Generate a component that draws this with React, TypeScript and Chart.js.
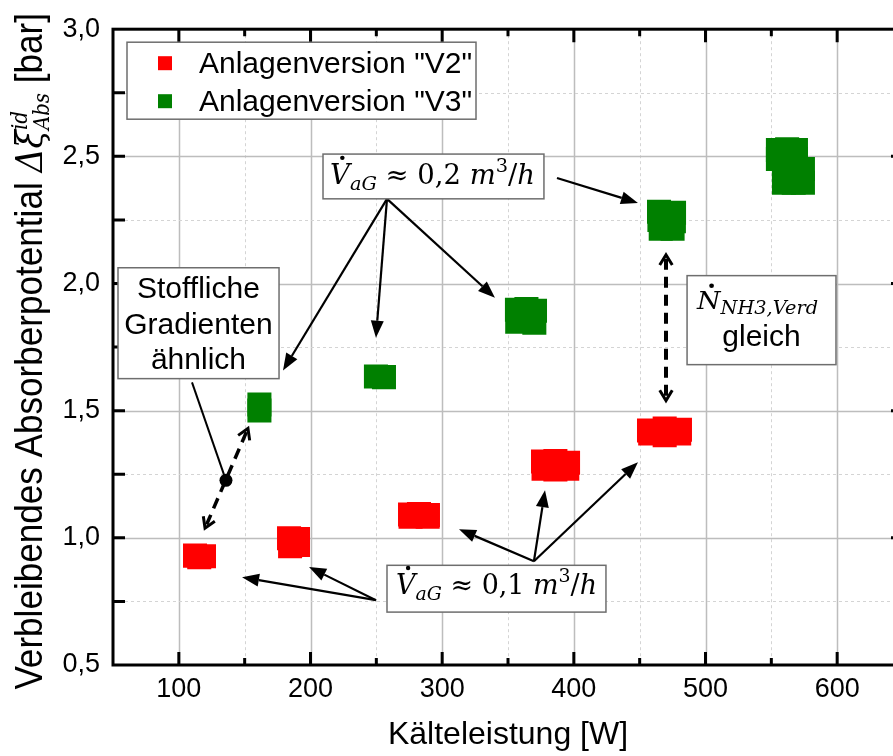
import React, { useEffect, useRef } from 'react';
import { Chart, registerables } from 'chart.js';

Chart.register(...registerables);

// ---------------- data ----------------
const seriesNames = ['Anlagenversion "V2"', 'Anlagenversion "V3"'];

// Anlagenversion "V2" (each cluster = several measurements)
const v2X = [112.3, 119.1, 115.5, 183.7, 190.5, 184.5, 190.5, 275.6, 282.4, 289.2, 276.0, 289.0, 376.6, 386.0, 395.6, 377.0, 386.0, 395.0, 457.1, 469.0, 480.6, 458.0, 469.0, 480.0];
const v2Y = [0.93, 0.928, 0.924, 0.998, 0.995, 0.967, 0.972, 1.092, 1.094, 1.09, 1.083, 1.083, 1.3, 1.302, 1.295, 1.272, 1.269, 1.272, 1.422, 1.43, 1.425, 1.41, 1.403, 1.41];

// Anlagenversion "V3"
const v3X = [161.2, 161.2, 249.7, 255.8, 356.8, 364.0, 370.5, 357.0, 370.0, 364.0, 464.7, 476.1, 465.0, 476.0, 466.0, 475.0, 555.0, 562.0, 568.7, 555.0, 568.7, 559.6, 574.0, 559.6, 567.0, 574.0];
const v3Y = [1.524, 1.501, 1.634, 1.632, 1.897, 1.9, 1.893, 1.85, 1.846, 1.872, 2.282, 2.278, 2.25, 2.245, 2.215, 2.215, 2.525, 2.528, 2.525, 2.49, 2.49, 2.45, 2.45, 2.396, 2.396, 2.396];

const xMajorValues = [100, 200, 300, 400, 500, 600];
const xTickLabels = ['100', '200', '300', '400', '500', '600'];
const yMajorValues = [0.5, 1.0, 1.5, 2.0, 2.5, 3.0];
const yTickLabels = ['0,5', '1,0', '1,5', '2,0', '2,5', '3,0'];

const xTitle = 'Kälteleistung [W]';

// ---------------- annotation anchors (data units) ----------------
const boxV02 = { x0: 209.5, x1: 377.3, y0: 2.509, y1: 2.333, tx: 292.7, ty: 2.392 };
const arrowsV02 = [
  { from: [258.1, 2.333], to: [179.1, 1.658] },
  { from: [258.1, 2.333], to: [249.7, 1.787] },
  { from: [258.1, 2.333], to: [340.1, 1.944] },
  { from: [387.2, 2.415], to: [448.7, 2.317] },
];
const boxV01 = { x0: 258.1, x1: 424.4, y0: 0.892, y1: 0.708, tx: 341.3, ty: 0.779 };
const arrowsV01 = [
  { from: [369.7, 0.908], to: [312.8, 1.034] },
  { from: [369.7, 0.908], to: [378.1, 1.187] },
  { from: [369.7, 0.908], to: [448.7, 1.297] },
  { from: [249.7, 0.755], to: [148.0, 0.845] },
  { from: [249.7, 0.755], to: [198.9, 0.885] },
];
const boxStoff = { x0: 53.8, x1: 176.1, y0: 2.062, y1: 1.626, tx: 114.9, lines: ['Stoffliche', 'Gradienten', 'ähnlich'], ty: [1.944, 1.803, 1.662] };
const stoffPointer = { from: [110.0, 1.611], to: [135.8, 1.226] };
const stoffDashed = { a: [152.5, 1.43], b: [119.9, 1.038] };
const boxN = { x0: 486.0, x1: 599.1, y0: 2.031, y1: 1.681, tx: 539.5, ty1: 1.901, ty2: 1.756 };
const nDashed = { a: [470.0, 2.113], b: [470.0, 1.54] };

// ---------------- drawing helpers ----------------
const SANS = '"Liberation Sans", Arial, sans-serif';
const SERIF = '"DejaVu Serif", "Liberation Serif", serif';

type Seg = { t?: string; font: string; dy?: number; dot?: boolean; sup?: string; sub?: string; supDy?: number; subDy?: number };

function segW(ctx: CanvasRenderingContext2D, s: Seg) {
  ctx.font = s.font;
  if (s.sup !== undefined || s.sub !== undefined) {
    return Math.max(ctx.measureText(s.sup || '').width, ctx.measureText(s.sub || '').width);
  }
  return ctx.measureText(s.t || '').width;
}
function richW(ctx: CanvasRenderingContext2D, segs: Seg[]) {
  return segs.reduce((a, s) => a + segW(ctx, s), 0);
}
function drawRich(ctx: CanvasRenderingContext2D, segs: Seg[], x: number, y: number, align: 'left' | 'center', sx: number) {
  const w = richW(ctx, segs);
  ctx.save();
  ctx.translate(x, y);
  ctx.scale(sx, 1);
  let cx = align === 'center' ? -w / 2 : 0;
  ctx.textAlign = 'left';
  ctx.textBaseline = 'alphabetic';
  ctx.fillStyle = '#000';
  for (const s of segs) {
    const sw = segW(ctx, s);
    ctx.font = s.font;
    if (s.sup !== undefined || s.sub !== undefined) {
      if (s.sup) ctx.fillText(s.sup, cx, s.supDy || 0);
      if (s.sub) ctx.fillText(s.sub, cx, s.subDy || 0);
    } else {
      ctx.fillText(s.t || '', cx, s.dy || 0);
      if (s.dot) {
        const m = ctx.measureText('V');
        const cap = m.actualBoundingBoxAscent || 20;
        ctx.beginPath();
        ctx.arc(cx + sw * 0.62, (s.dy || 0) - cap - 5, 2.2, 0, Math.PI * 2);
        ctx.fill();
      }
    }
    cx += sw;
  }
  ctx.restore();
}

function box(ctx: CanvasRenderingContext2D, x0: number, y0: number, x1: number, y1: number) {
  ctx.save();
  ctx.fillStyle = '#fff';
  ctx.strokeStyle = '#6e6e6e';
  ctx.lineWidth = 1.5;
  ctx.setLineDash([]);
  ctx.fillRect(x0, y0, x1 - x0, y1 - y0);
  ctx.strokeRect(x0, y0, x1 - x0, y1 - y0);
  ctx.restore();
}

function arrowFilled(ctx: CanvasRenderingContext2D, x1: number, y1: number, x2: number, y2: number) {
  const ang = Math.atan2(y2 - y1, x2 - x1);
  const L = 17, H = 6.5;
  const bx = x2 - L * Math.cos(ang), by = y2 - L * Math.sin(ang);
  ctx.save();
  ctx.strokeStyle = '#000';
  ctx.fillStyle = '#000';
  ctx.lineWidth = 2.2;
  ctx.setLineDash([]);
  ctx.beginPath();
  ctx.moveTo(x1, y1);
  ctx.lineTo(bx, by);
  ctx.stroke();
  ctx.beginPath();
  ctx.moveTo(x2, y2);
  ctx.lineTo(bx + H * Math.sin(ang), by - H * Math.cos(ang));
  ctx.lineTo(bx - H * Math.sin(ang), by + H * Math.cos(ang));
  ctx.closePath();
  ctx.fill();
  ctx.restore();
}

function chevron(ctx: CanvasRenderingContext2D, xt: number, yt: number, ang: number) {
  const L = 12, a = 0.55;
  ctx.beginPath();
  ctx.moveTo(xt - L * Math.cos(ang - a), yt - L * Math.sin(ang - a));
  ctx.lineTo(xt, yt);
  ctx.lineTo(xt - L * Math.cos(ang + a), yt - L * Math.sin(ang + a));
  ctx.stroke();
}

function dashedDouble(ctx: CanvasRenderingContext2D, x1: number, y1: number, x2: number, y2: number, width: number) {
  const ang = Math.atan2(y2 - y1, x2 - x1);
  ctx.save();
  ctx.strokeStyle = '#000';
  ctx.lineWidth = width;
  ctx.setLineDash([11, 7]);
  ctx.beginPath();
  ctx.moveTo(x1 + 4 * Math.cos(ang), y1 + 4 * Math.sin(ang));
  ctx.lineTo(x2 - 4 * Math.cos(ang), y2 - 4 * Math.sin(ang));
  ctx.stroke();
  ctx.setLineDash([]);
  ctx.lineWidth = 3;
  ctx.lineJoin = 'miter';
  chevron(ctx, x2, y2, ang);
  chevron(ctx, x1, y1, ang + Math.PI);
  ctx.restore();
}

const near = (arr: number[], v: number) => arr.findIndex((a) => Math.abs(a - v) < 1e-6);

const decorPlugin = {
  id: 'decor',
  beforeDatasetsDraw(chart: any) {
    const { ctx, chartArea: a } = chart;
    const xs = chart.scales.x, ys = chart.scales.y;
    ctx.save();
    xs.ticks.forEach((t: any) => {
      const v = t.value;
      if (v <= xs.min + 1e-9 || v >= xs.max - 1e-9) return;
      const px = Math.round(xs.getPixelForValue(v)) + 0.5;
      const major = near(xMajorValues, v) >= 0;
      ctx.beginPath();
      ctx.strokeStyle = major ? '#bdbdbd' : '#d4d4d4';
      ctx.lineWidth = major ? 1.5 : 1;
      ctx.setLineDash(major ? [] : [3, 3]);
      ctx.moveTo(px, a.top);
      ctx.lineTo(px, a.bottom);
      ctx.stroke();
    });
    ys.ticks.forEach((t: any) => {
      const v = t.value;
      if (v <= ys.min + 1e-9 || v >= ys.max - 1e-9) return;
      const py = Math.round(ys.getPixelForValue(v)) + 0.5;
      const major = near(yMajorValues, v) >= 0;
      ctx.beginPath();
      ctx.strokeStyle = major ? '#bdbdbd' : '#d4d4d4';
      ctx.lineWidth = major ? 1.5 : 1;
      ctx.setLineDash(major ? [] : [3, 3]);
      ctx.moveTo(a.left, py);
      ctx.lineTo(a.right, py);
      ctx.stroke();
    });
    ctx.restore();
  },
  afterDatasetsDraw(chart: any) {
    const { ctx, chartArea: a } = chart;
    const xs = chart.scales.x, ys = chart.scales.y;
    const X = (v: number) => xs.getPixelForValue(v);
    const Y = (v: number) => ys.getPixelForValue(v);

    // ---- frame with inward ticks ----
    ctx.save();
    ctx.strokeStyle = '#000';
    ctx.lineWidth = 3;
    ctx.setLineDash([]);
    ctx.strokeRect(a.left, a.top, a.right - a.left, a.bottom - a.top);
    xs.ticks.forEach((t: any) => {
      const v = t.value;
      if (v <= xs.min + 1e-9 || v >= xs.max - 1e-9) return;
      const px = X(v);
      const major = near(xMajorValues, v) >= 0;
      const len = major ? 13 : 7;
      ctx.beginPath();
      ctx.moveTo(px, a.bottom);
      ctx.lineTo(px, a.bottom - len);
      ctx.moveTo(px, a.top);
      ctx.lineTo(px, a.top + len);
      ctx.stroke();
    });
    ys.ticks.forEach((t: any) => {
      const v = t.value;
      if (v <= ys.min + 1e-9 || v >= ys.max - 1e-9) return;
      const py = Y(v);
      const major = near(yMajorValues, v) >= 0;
      ctx.beginPath();
      ctx.moveTo(a.left, py);
      ctx.lineTo(a.left + 12, py);
      ctx.moveTo(a.right, py);
      ctx.lineTo(a.right - (major ? 12 : 6), py);
      ctx.stroke();
    });
    ctx.restore();

    // ---- legend ----
    const lx0 = a.left + 14, ly0 = a.top + 13;
    box(ctx, lx0, ly0, lx0 + 349, ly0 + 77);
    ctx.save();
    ctx.fillStyle = '#ff0000';
    ctx.fillRect(lx0 + 31, ly0 + 14, 14, 14);
    ctx.fillStyle = '#008000';
    ctx.fillRect(lx0 + 31, ly0 + 52, 14, 14);
    ctx.fillStyle = '#000';
    ctx.font = `30px ${SANS}`;
    ctx.textAlign = 'left';
    ctx.textBaseline = 'alphabetic';
    ctx.fillText(seriesNames[0], lx0 + 72, ly0 + 31);
    ctx.fillText(seriesNames[1], lx0 + 72, ly0 + 69);
    ctx.restore();

    // ---- V 0,2 box + arrows ----
    arrowsV02.forEach((ar) => arrowFilled(ctx, X(ar.from[0]), Y(ar.from[1]), X(ar.to[0]), Y(ar.to[1])));
    box(ctx, X(boxV02.x0), Y(boxV02.y0), X(boxV02.x1), Y(boxV02.y1));
    const vSegs = (num: string): Seg[] => [
      { t: 'V', font: `italic 27px ${SERIF}`, dot: true },
      { t: 'aG', font: `italic 19px ${SERIF}`, dy: 6 },
      { t: ' ≈ ' + num + ' ', font: `27px ${SERIF}` },
      { t: 'm', font: `italic 27px ${SERIF}` },
      { t: '3', font: `19px ${SERIF}`, dy: -12 },
      { t: '/', font: `27px ${SERIF}` },
      { t: 'h', font: `italic 27px ${SERIF}` },
    ];
    {
      const segs = vSegs('0,2');
      const w = richW(ctx, segs);
      drawRich(ctx, segs, X(boxV02.tx), Y(boxV02.ty), 'center', 205 / w);
    }

    // ---- V 0,1 box + arrows ----
    arrowsV01.forEach((ar) => arrowFilled(ctx, X(ar.from[0]), Y(ar.from[1]), X(ar.to[0]), Y(ar.to[1])));
    box(ctx, X(boxV01.x0), Y(boxV01.y0), X(boxV01.x1), Y(boxV01.y1));
    {
      const segs = vSegs('0,1');
      const w = richW(ctx, segs);
      drawRich(ctx, segs, X(boxV01.tx), Y(boxV01.ty), 'center', 201 / w);
    }

    // ---- Stoffliche Gradienten ----
    ctx.save();
    ctx.strokeStyle = '#000';
    ctx.lineWidth = 2;
    ctx.beginPath();
    ctx.moveTo(X(stoffPointer.from[0]), Y(stoffPointer.from[1]));
    ctx.lineTo(X(stoffPointer.to[0]), Y(stoffPointer.to[1]));
    ctx.stroke();
    ctx.restore();
    dashedDouble(ctx, X(stoffDashed.a[0]), Y(stoffDashed.a[1]), X(stoffDashed.b[0]), Y(stoffDashed.b[1]), 3.5);
    ctx.save();
    ctx.fillStyle = '#000';
    ctx.beginPath();
    ctx.arc(X(stoffPointer.to[0]), Y(stoffPointer.to[1]), 6.5, 0, Math.PI * 2);
    ctx.fill();
    ctx.restore();
    box(ctx, X(boxStoff.x0), Y(boxStoff.y0), X(boxStoff.x1), Y(boxStoff.y1));
    ctx.save();
    ctx.fillStyle = '#000';
    ctx.font = `30px ${SANS}`;
    ctx.textAlign = 'center';
    ctx.textBaseline = 'alphabetic';
    boxStoff.lines.forEach((l, i) => ctx.fillText(l, X(boxStoff.tx), Y(boxStoff.ty[i])));
    ctx.restore();

    // ---- N box ----
    dashedDouble(ctx, X(nDashed.a[0]), Y(nDashed.a[1]), X(nDashed.b[0]), Y(nDashed.b[1]), 4);
    box(ctx, X(boxN.x0), Y(boxN.y0), X(boxN.x1), Y(boxN.y1));
    {
      const segs: Seg[] = [
        { t: 'N', font: `italic 25px ${SERIF}`, dot: true },
        { t: 'NH3,Verd', font: `italic 18px ${SERIF}`, dy: 5 },
      ];
      const w = richW(ctx, segs);
      drawRich(ctx, segs, X(boxN.tx), Y(boxN.ty1), 'center', 121 / w);
      ctx.save();
      ctx.fillStyle = '#000';
      ctx.font = `30px ${SANS}`;
      ctx.textAlign = 'center';
      ctx.fillText('gleich', X(boxN.tx) + 4, Y(boxN.ty2));
      ctx.restore();
    }

    // ---- y axis title (rotated, with math) ----
    {
      const segs: Seg[] = [
        { t: 'Verbleibendes Absorberpotential ', font: `39px ${SANS}` },
        { t: 'Δξ', font: `italic 37px ${SERIF}` },
        { sup: 'id', sub: 'Abs', font: `italic 22px ${SERIF}`, supDy: -15, subDy: 7 },
        { t: ' [bar]', font: `39px ${SANS}` },
      ];
      const sx = 0.9;
      const w = richW(ctx, segs) * sx;
      ctx.save();
      ctx.translate(42, 13 + w);
      ctx.rotate(-Math.PI / 2);
      drawRich(ctx, segs, 0, 0, 'left', sx);
      ctx.restore();
    }
  },
};

export default function App() {
  const ref = useRef<HTMLCanvasElement | null>(null);
  useEffect(() => {
    if (!ref.current) return;
    const chart = new Chart(ref.current, {
      type: 'scatter',
      data: {
        datasets: [
          {
            label: seriesNames[0],
            data: v2X.map((x, i) => ({ x, y: v2Y[i] })),
            backgroundColor: '#ff0000',
            borderColor: '#ff0000',
            borderWidth: 0,
            pointStyle: 'rect',
            pointRadius: 17,
            pointHoverRadius: 17,
          },
          {
            label: seriesNames[1],
            data: v3X.map((x, i) => ({ x, y: v3Y[i] })),
            backgroundColor: '#008000',
            borderColor: '#008000',
            borderWidth: 0,
            pointStyle: 'rect',
            pointRadius: 17,
            pointHoverRadius: 17,
          },
        ],
      },
      options: {
        animation: false,
        responsive: false,
        events: [],
        layout: { padding: { left: 0, right: 17, top: 28, bottom: 0 } },
        plugins: { legend: { display: false }, tooltip: { enabled: false } },
        scales: {
          x: {
            type: 'linear',
            min: 50,
            max: 650,
            afterFit: (s: any) => {
              s.height = 91;
            },
            ticks: {
              stepSize: 50,
              autoSkip: false,
              maxRotation: 0,
              padding: 8,
              color: '#000',
              font: { family: SANS, size: 27 },
              callback: (v: any) => {
                const i = near(xMajorValues, Number(v));
                return i >= 0 ? xTickLabels[i] : '';
              },
            },
            grid: { display: false, drawTicks: false },
            border: { display: false },
            title: {
              display: true,
              text: xTitle,
              color: '#000',
              font: { family: SANS, size: 32 },
              padding: { top: 0, bottom: 2 },
            },
          },
          y: {
            type: 'linear',
            min: 0.5,
            max: 3.0,
            afterFit: (s: any) => {
              s.width = 113;
            },
            ticks: {
              stepSize: 0.25,
              autoSkip: false,
              padding: 13,
              color: '#000',
              font: { family: SANS, size: 27 },
              callback: (v: any) => {
                const i = near(yMajorValues, Number(v));
                return i >= 0 ? yTickLabels[i] : '';
              },
            },
            grid: { display: false, drawTicks: false },
            border: { display: false },
          },
        },
      },
      plugins: [decorPlugin],
    } as any);
    return () => chart.destroy();
  }, []);

  return (
    <div style={{ position: 'absolute', left: 0, top: 0, width: 893, height: 756, overflow: 'hidden', background: '#fff' }}>
      <canvas ref={ref} width={920} height={756} style={{ display: 'block', width: 920, height: 756 }} />
    </div>
  );
}
